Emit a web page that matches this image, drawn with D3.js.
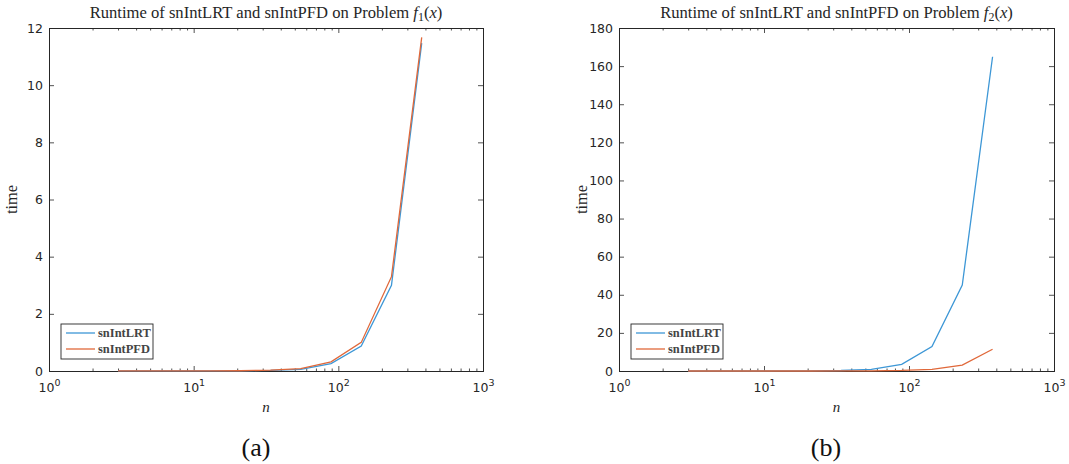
<!DOCTYPE html>
<html>
<head>
<meta charset="utf-8">
<script src="https://cdn.jsdelivr.net/npm/d3@7"></script>
<style>
  body { margin: 0; background: #fff; }
  svg { display: block; }
</style>
</head>
<body>
<div id="chart"></div>
<script>
// data
const nValues = [3, 5, 8, 13, 21, 34, 55, 89, 144, 233, 377]
const seriesNames = ["snIntLRT", "snIntPFD"]
const lrtF1 = [0.001, 0.001, 0.002, 0.003, 0.006, 0.02, 0.06, 0.26, 0.87, 3.0, 11.47]
const pfdF1 = [0.001, 0.001, 0.002, 0.004, 0.008, 0.03, 0.08, 0.32, 1.0, 3.3, 11.67]
const lrtF2 = [0.002, 0.003, 0.006, 0.015, 0.05, 0.25, 0.9, 3.5, 12.8, 45.1, 164.9]
const pfdF2 = [0.001, 0.001, 0.002, 0.003, 0.006, 0.02, 0.08, 0.3, 0.9, 3.1, 11.4]
const yTicksF1 = [0, 2, 4, 6, 8, 10, 12]
const yTicksF2 = [0, 20, 40, 60, 80, 100, 120, 140, 160, 180]
const xTicks = [1, 10, 100, 1000]
const xMinor = [2, 3, 4, 5, 6, 7, 8, 9, 20, 30, 40, 50, 60, 70, 80, 90, 200, 300, 400, 500, 600, 700, 800, 900]
const subscripts = ["1", "2"]
const captions = ["(a)", "(b)"]

const width = 1069, height = 464
const axisColor = "#262626"
const color = d3.scaleOrdinal()
    .domain(seriesNames)
    .range(["#3d97d6", "#e0683a"])

const svg = d3.select("#chart")
    .append("svg")
    .attr("width", width)
    .attr("height", height)

// shrink/grow a text's font so it takes the width seen in the figure
function fitWidth(sel, target, base) {
    const w = sel.node().getComputedTextLength()
    const size = base * target / w
    sel.style("font-size", size + "px")
    return size
}

function drawPanel(left, right, lrt, pfd, yTicks, sub, caption, captionX) {
    const top = 28, bottom = 371
    const x = d3.scaleLog().domain([1, 1000]).range([left, right])
    const y = d3.scaleLinear().domain([0, yTicks[yTicks.length - 1]]).range([bottom, top])
    const g = svg.append("g")

    // minor ticks, bottom and top
    g.append("g").attr("transform", `translate(0,${bottom})`)
        .call(d3.axisBottom(x).tickValues(xMinor).tickSize(-2.5).tickFormat(""))
    g.append("g").attr("transform", `translate(0,${top})`)
        .call(d3.axisTop(x).tickValues(xMinor).tickSize(-2.5).tickFormat(""))

    // major x ticks
    const xb = g.append("g").attr("transform", `translate(0,${bottom})`)
        .call(d3.axisBottom(x).tickValues(xTicks).tickSize(-5).tickPadding(9).tickFormat(""))
    xb.selectAll(".tick").append("text")
        .attr("y", 21)
        .attr("text-anchor", "middle")
        .style("font-family", "DejaVu Sans")
        .style("font-size", "12.5px")
        .attr("fill", axisColor)
        .each(function(d) {
            const t = d3.select(this)
            t.append("tspan").text("10")
            t.append("tspan").attr("dy", -6).style("font-size", "9.5px")
                .text(Math.round(Math.log10(d)))
        })
    g.append("g").attr("transform", `translate(0,${top})`)
        .call(d3.axisTop(x).tickValues(xTicks).tickSize(-5).tickFormat(""))

    // y axes
    g.append("g").attr("transform", `translate(${left},0)`)
        .call(d3.axisLeft(y).tickValues(yTicks).tickSize(-5).tickPadding(6))
        .selectAll("text")
        .style("font-family", "DejaVu Sans")
        .style("font-size", "12.5px")
        .attr("fill", axisColor)
    g.append("g").attr("transform", `translate(${right},0)`)
        .call(d3.axisRight(y).tickValues(yTicks).tickSize(-5).tickFormat(""))

    g.selectAll(".domain").attr("stroke", axisColor).attr("stroke-width", 1)
    g.selectAll(".tick line").attr("stroke", axisColor).attr("stroke-width", 0.8)

    // lines
    const line = d3.line()
        .x(function(d) { return x(d[0]) })
        .y(function(d) { return y(d[1]) })
    const series = [lrt, pfd]
    series.forEach(function(vals, i) {
        g.append("path")
            .datum(nValues.map(function(n, j) { return [n, vals[j]] }))
            .attr("d", line)
            .attr("fill", "none")
            .attr("stroke", color(seriesNames[i]))
            .attr("stroke-width", 1.3)
    })

    // title
    const cx = (left + right) / 2
    const title = g.append("text")
        .attr("x", cx)
        .attr("y", 18)
        .attr("text-anchor", "middle")
        .style("font-family", "Liberation Serif")
        .style("font-size", "14px")
        .attr("fill", axisColor)
    title.append("tspan").text("Runtime of snIntLRT and snIntPFD on Problem ")
    title.append("tspan").style("font-style", "italic").text("f")
    title.append("tspan").attr("dy", 3).style("font-size", "0.72em").text(sub)
    title.append("tspan").attr("dy", -3).text("(")
    title.append("tspan").style("font-style", "italic").text("x")
    title.append("tspan").text(")")
    fitWidth(title, 353, 14)

    // axis labels
    g.append("text")
        .attr("x", cx)
        .attr("y", 412)
        .attr("text-anchor", "middle")
        .style("font-family", "Liberation Serif")
        .style("font-style", "italic")
        .style("font-size", "15px")
        .attr("fill", axisColor)
        .text("n")
    const ylab = g.append("text")
        .attr("transform", `translate(${left - 32},${(top + bottom) / 2}) rotate(-90)`)
        .attr("text-anchor", "middle")
        .style("font-family", "Liberation Serif")
        .style("font-size", "14px")
        .attr("fill", axisColor)
        .text("time")
    fitWidth(ylab, 29, 14)

    // legend
    const lx = left + 12, ly = 324
    g.append("rect")
        .attr("x", lx).attr("y", ly)
        .attr("width", 92).attr("height", 35)
        .attr("fill", "#fff")
        .attr("stroke", axisColor)
        .attr("stroke-width", 0.9)
    let legendSize = 12
    seriesNames.forEach(function(name, i) {
        const yy = ly + 9 + i * 16
        g.append("line")
            .attr("x1", lx + 5).attr("x2", lx + 34)
            .attr("y1", yy).attr("y2", yy)
            .attr("stroke", color(name))
            .attr("stroke-width", 1.3)
        const t = g.append("text")
            .attr("x", lx + 37).attr("y", yy + 4)
            .style("font-family", "Liberation Serif")
            .style("font-weight", "bold")
            .style("font-size", legendSize + "px")
            .attr("fill", "#444")
            .text(name)
        if (i == 0) legendSize = fitWidth(t, 53, 12)
    })

    // caption
    svg.append("text")
        .attr("x", captionX)
        .attr("y", 456)
        .attr("text-anchor", "middle")
        .style("font-family", "Liberation Serif")
        .style("font-size", "26px")
        .attr("fill", "#111")
        .text(caption)
}

drawPanel(49, 483, lrtF1, pfdF1, yTicksF1, subscripts[0], captions[0], 256)
drawPanel(619, 1054, lrtF2, pfdF2, yTicksF2, subscripts[1], captions[1], 826)
</script>
</body>
</html>
